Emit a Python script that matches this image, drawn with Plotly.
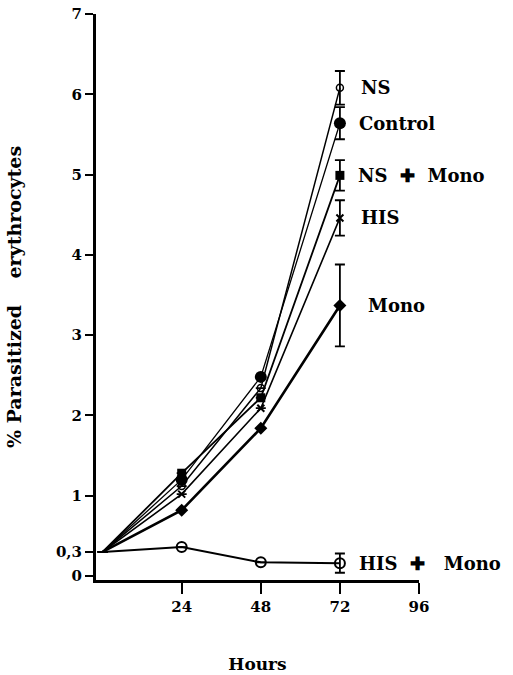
import plotly.graph_objects as go

hours = [0, 24, 48, 72]

series_names = ["NS", "Control", "NS\u00a0\u00a0✚\u00a0\u00a0Mono", "HIS", "Mono",
                "HIS\u00a0\u00a0✚\u00a0\u00a0\u00a0Mono"]
ns = [0.3, 1.12, 2.34, 6.08]
control = [0.3, 1.20, 2.48, 5.64]
ns_mono = [0.3, 1.28, 2.22, 4.99]
his = [0.3, 1.02, 2.09, 4.46]
mono = [0.3, 0.82, 1.84, 3.37]
his_mono = [0.3, 0.36, 0.17, 0.16]

err_ns = [None, None, None, 0.21]
err_control = [None, None, None, 0.20]
err_ns_mono = [None, None, None, 0.19]
err_his = [None, None, None, 0.22]
err_mono = [None, None, None, 0.51]
err_his_mono = [None, None, None, 0.12]

y_tickvals = [0, 0.3, 1, 2, 3, 4, 5, 6, 7]
y_ticktext = ["0", "0,3", "1", "2", "3", "4", "5", "6", "7"]
x_tickvals = [24, 48, 72, 96]
x_ticktext = ["24", "48", "72", "96"]

FONT = "DejaVu Serif"

styles = [
    (ns, err_ns, dict(symbol="circle-open", size=7, line=dict(width=1.5, color="black")), 1.5),
    (control, err_control, dict(symbol="circle", size=12), 1.3),
    (ns_mono, err_ns_mono, dict(symbol="square", size=9), 1.8),
    (his, err_his, dict(symbol="x-thin", size=7, line=dict(width=2, color="black")), 1.6),
    (mono, err_mono, dict(symbol="diamond", size=10), 2.6),
    (his_mono, err_his_mono, dict(symbol="circle-open", size=10, line=dict(width=2, color="black")), 2.0),
]

marker_opacity = [0, 1, 1, 1]

fig = go.Figure()
for name, (vals, errs, marker, lw) in zip(series_names, styles):
    fig.add_trace(go.Scatter(
        x=hours, y=vals, mode="lines+markers", name=name,
        line=dict(color="black", width=lw),
        marker=dict(color="black", opacity=marker_opacity, **marker),
        error_y=dict(type="data", array=errs, visible=True, color="black",
                     thickness=1.8, width=5),
        showlegend=False,
    ))

label_shift = [19, 17, 16, 19, 26, 17]
for name, (vals, _, _, _), dx in zip(series_names, styles, label_shift):
    fig.add_annotation(x=hours[-1], y=vals[-1], text=name, showarrow=False,
                       xanchor="left", yanchor="middle", xshift=dx,
                       font=dict(family=FONT, size=18, color="black", weight="bold"))

fig.update_layout(
    width=513, height=675,
    margin=dict(l=96, r=94, t=14, b=95, autoexpand=False),
    paper_bgcolor="white", plot_bgcolor="white",
    font=dict(family=FONT, size=15, color="black", weight="bold"),
)
fig.update_xaxes(
    range=[-2, 96], tickvals=x_tickvals, ticktext=x_ticktext, automargin=False,
    showgrid=False, zeroline=False, showline=True, linecolor="black", linewidth=3,
    ticks="outside", ticklen=11, tickwidth=2, tickcolor="black",
    title=dict(text="Hours", standoff=44, font=dict(family=FONT, size=17, weight="bold")),
)
fig.update_yaxes(
    range=[-0.05, 7], tickvals=y_tickvals, ticktext=y_ticktext, automargin=False,
    showgrid=False, zeroline=False, showline=True, linecolor="black", linewidth=3,
    ticks="outside", ticklen=8, tickwidth=2, tickcolor="black",
    title=dict(text="%\u00a0Parasitized\u00a0\u00a0\u00a0\u00a0erythrocytes", standoff=30,
               font=dict(family=FONT, size=19, weight="bold")),
)

fig.write_html("out.html")
